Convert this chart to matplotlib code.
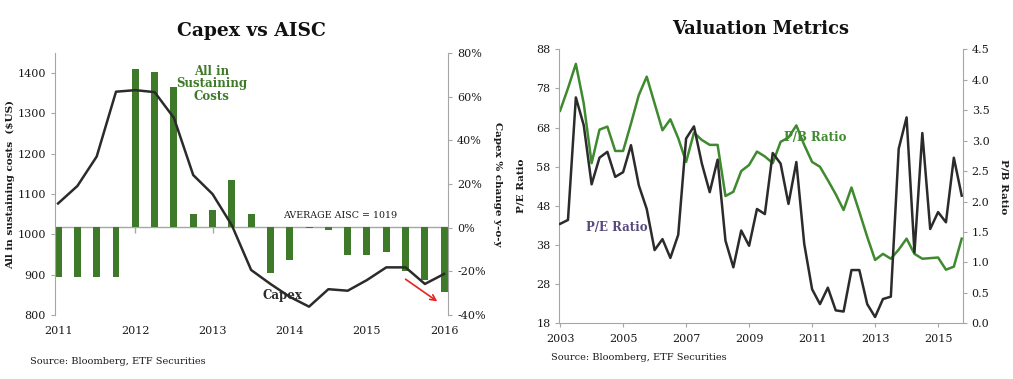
import numpy as np
import matplotlib
matplotlib.use("Agg")
import matplotlib.pyplot as plt
from matplotlib.markers import TICKDOWN

plt.rcParams['font.family'] = ['DejaVu Serif']

# --- Capex vs AISC (quarterly, 2011Q1 - 2016Q1)
quarters = 2011 + np.arange(21) / 4
aisc = [893, 893, 893, 893, 1411, 1403, 1366, 1051, 1061, 1136, 1050,
        905, 937, 1016, 1011, 949, 948, 955, 908, 887, 857]
capex_pct = [11.1, 19.1, 32.6, 62.3, 63.0, 62.1, 50.3, 24.1, 15.4, 1.1, -19.4,
             -25.8, -31.7, -36.2, -28.2, -28.9, -24.0, -18.2, -18.2, -25.8, -21.2]
avg_aisc = 1019
left_years = [2011, 2012, 2013, 2014, 2015, 2016]

# --- Valuation metrics (quarterly, 2003Q1 - 2015Q4)
vq = 2003 + np.arange(52) / 4
pe_ratio = [43.4, 44.4, 75.7, 68.6, 53.5, 60.3, 61.8, 55.4, 56.6, 63.5, 53.2, 47.2,
            36.7, 39.5, 34.7, 40.6, 65.2, 68.3, 58.8, 51.5, 59.8, 39.1, 32.3, 41.7,
            37.8, 47.2, 45.9, 61.5, 58.8, 48.5, 59.2, 38.3, 26.7, 22.9, 27.1, 21.3,
            21.0, 31.6, 31.6, 22.9, 19.6, 24.2, 24.8, 62.6, 70.6, 36.1, 66.6, 42.1,
            46.4, 43.8, 60.3, 50.6]
pb_ratio = [3.49, 3.86, 4.26, 3.61, 2.63, 3.18, 3.23, 2.83, 2.83, 3.28, 3.75, 4.05,
            3.61, 3.17, 3.35, 3.04, 2.65, 3.13, 3.01, 2.93, 2.93, 2.09, 2.16, 2.50,
            2.60, 2.82, 2.74, 2.63, 2.98, 3.05, 3.25, 2.93, 2.65, 2.57, 2.35, 2.12,
            1.86, 2.23, 1.83, 1.42, 1.04, 1.14, 1.06, 1.21, 1.39, 1.14, 1.06, 1.07,
            1.08, 0.88, 0.93, 1.39]
right_years = [2003, 2005, 2007, 2009, 2011, 2013, 2015]

GREEN_BAR = '#3f7a2a'
GREEN_LINE = '#3f8a2f'
DARK = '#2b2b2b'
SPINE = '#a6a6a6'
TXT = '#1a1a1a'

fig = plt.figure(figsize=(10.13, 3.79), dpi=100)

# ================= left chart =================
ax = fig.add_axes([0.0543, 0.169, 0.388, 0.691])
ax.bar(quarters, np.array(aisc) - avg_aisc, bottom=avg_aisc, width=0.09,
       color=GREEN_BAR, zorder=2)
ax.axhline(avg_aisc, color=SPINE, lw=1, zorder=1)
ax.plot(left_years, [avg_aisc] * len(left_years), ls='none', marker=TICKDOWN,
        ms=4, color=SPINE, zorder=1)
ax.set_xlim(2010.96, 2016.05)
ax.set_ylim(800, 1450)
ax.set_yticks(range(800, 1401, 100))
ax.set_xticks(left_years)
ax.tick_params(axis='x', length=0, pad=8, labelsize=8, colors=TXT)
ax.tick_params(axis='y', length=3, labelsize=8, colors=TXT)
ax.tick_params(axis='y', color=SPINE)
for s in ['top', 'right', 'bottom']:
    ax.spines[s].set_visible(False)
ax.spines['left'].set_color(SPINE)
ax.set_ylabel('All in sustaining costs  ($US)', fontsize=7.5, fontweight='bold',
              color=TXT, labelpad=2)

ax2 = ax.twinx()
ax2.plot(quarters, capex_pct, color=DARK, lw=1.8)
ax2.set_ylim(-40, 80)
ax2.set_yticks(range(-40, 81, 20))
ax2.set_yticklabels([f'{v}%' for v in range(-40, 81, 20)])
ax2.tick_params(axis='y', length=3, labelsize=8, colors=TXT)
ax2.tick_params(axis='y', color=SPINE)
for s in ['top', 'left', 'bottom']:
    ax2.spines[s].set_visible(False)
ax2.spines['right'].set_color(SPINE)
ax2.set_ylabel('Capex % change y-o-y', fontsize=7.5, fontweight='bold',
               color=TXT, rotation=-90, labelpad=12)
ax2.annotate('', xy=(2015.94, -34.5), xytext=(2015.47, -22.9),
             arrowprops=dict(arrowstyle='->', color='#e8231f', lw=1.2))
ax2.text(2014.65, 3.5, f'AVERAGE AISC = {avg_aisc}', fontsize=6.8,
         ha='center', va='bottom', color=TXT)
ax2.text(2013.9, -31, 'Capex', fontsize=8.5, fontweight='bold', color=DARK,
         ha='center', va='center')
ax2.text(2012.99, 66, 'All in\nSustaining\nCosts', fontsize=8.5, fontweight='bold',
         color=GREEN_BAR, ha='center', va='center', linespacing=0.95)
ax.set_title('Capex vs AISC', fontsize=13.5, fontweight='bold', color='#111111',
             pad=12)

fig.text(0.030, 0.045, 'Source: Bloomberg, ETF Securities', fontsize=7,
         color=TXT, va='center')

# ================= right chart =================
bx = fig.add_axes([0.5523, 0.147, 0.398, 0.723])
bx.plot(vq, pe_ratio, color=DARK, lw=1.8, zorder=3)
bx.set_xlim(2002.98, 2015.78)
bx.set_ylim(18, 88)
bx.set_yticks(range(18, 89, 10))
bx.set_xticks(right_years)
bx.tick_params(axis='both', length=3, labelsize=8, colors=TXT)
bx.tick_params(axis='both', color=SPINE)
bx.tick_params(axis='x', pad=5)
for s in ['top', 'right']:
    bx.spines[s].set_visible(False)
bx.spines['left'].set_color(SPINE)
bx.spines['bottom'].set_color(SPINE)
bx.set_ylabel('P/E Ratio', fontsize=7.5, fontweight='bold', color=TXT, labelpad=8)

bx2 = bx.twinx()
bx2.plot(vq, pb_ratio, color=GREEN_LINE, lw=1.8, zorder=2)
bx.set_zorder(bx2.get_zorder() + 1)
bx.patch.set_visible(False)
bx2.set_ylim(0, 4.5)
bx2.set_yticks(np.arange(0, 4.51, 0.5))
bx2.set_yticklabels([f'{v:.1f}' for v in np.arange(0, 4.51, 0.5)])
bx2.tick_params(axis='y', length=3, labelsize=8, colors=TXT)
bx2.tick_params(axis='y', color=SPINE)
for s in ['top', 'left', 'bottom']:
    bx2.spines[s].set_visible(False)
bx2.spines['right'].set_color(SPINE)
bx2.set_ylabel('P/B Ratio', fontsize=7.5, fontweight='bold', color=TXT,
               rotation=-90, labelpad=14)
bx.text(2004.8, 42.5, 'P/E Ratio', fontsize=8.5, fontweight='bold',
        color='#57497a', ha='center', va='center')
bx2.text(2011.1, 3.05, 'P/B Ratio', fontsize=8.5, fontweight='bold',
         color=GREEN_LINE, ha='center', va='center')
bx.set_title('Valuation Metrics', fontsize=12.8, fontweight='bold',
             color='#111111', pad=11)

fig.text(0.544, 0.058, 'Source: Bloomberg, ETF Securities', fontsize=7,
         color=TXT, va='center')

fig.savefig('out.png', dpi=100)
